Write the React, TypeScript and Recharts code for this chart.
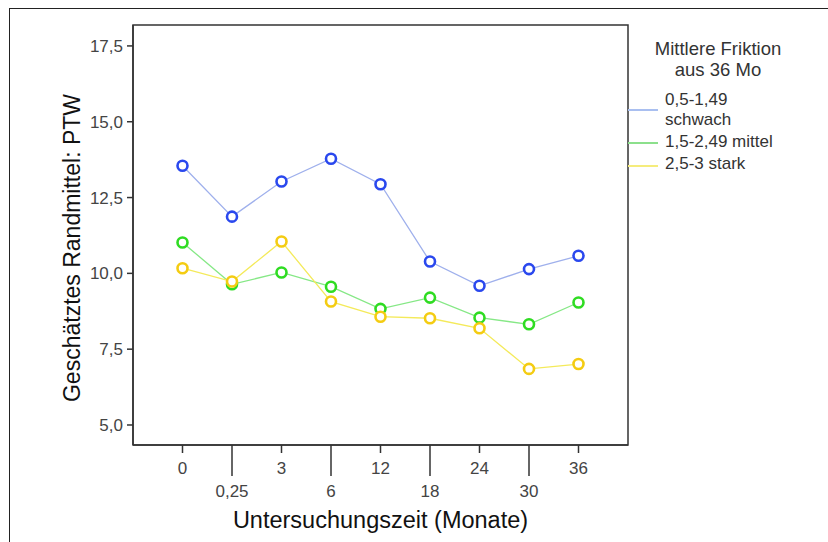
import { LineChart, Line, XAxis, YAxis, Legend, ReferenceArea } from 'recharts'

const months = ['0', '0,25', '3', '6', '12', '18', '24', '30', '36']
const yTicks = [5, 7.5, 10, 12.5, 15, 17.5]

const schwach = [13.55, 11.87, 13.03, 13.78, 12.94, 10.39, 9.59, 10.14, 10.58]
const mittel = [11.02, 9.64, 10.03, 9.56, 8.83, 9.2, 8.54, 8.32, 9.04]
const stark = [10.17, 9.73, 11.05, 9.07, 8.57, 8.52, 8.19, 6.85, 7.01]

const data = months.map((m, i) => ({
  idx: i,
  month: m,
  schwach: schwach[i],
  mittel: mittel[i],
  stark: stark[i],
}))

const series = [
  { key: 'schwach', name: ['0,5-1,49', 'schwach'], line: '#9fb0ec', dot: '#2a48ee', legend: '#a9bff0' },
  { key: 'mittel', name: ['1,5-2,49 mittel'], line: '#86e886', dot: '#2fdc22', legend: '#8ce08c' },
  { key: 'stark', name: ['2,5-3 stark'], line: '#f4ea5a', dot: '#f4cc12', legend: '#f5ec7c' },
]

const font = '"Liberation Sans", Arial, sans-serif'

const XTick = ({ x, y, payload }: any) => {
  const i = payload.value
  const low = i % 2 === 1
  return (
    <g>
      <line x1={x} y1={y} x2={x} y2={y + (low ? 31 : 8)} stroke="#333" strokeWidth={1.5} />
      <text x={x} y={y + (low ? 52 : 29)} textAnchor="middle" fill="#444" fontSize={17} fontFamily={font}>
        {months[i]}
      </text>
    </g>
  )
}

const LegendBox = () => (
  <div style={{ position: 'relative', width: 200, height: 160, fontFamily: font, color: '#333' }}>
    <div style={{ position: 'absolute', left: 0, width: 180, top: 8, textAlign: 'center', fontSize: 18.5, lineHeight: '21px' }}>
      Mittlere Friktion
      <br />
      aus 36 Mo
    </div>
    {series.map((s, i) => {
      const top = [60, 102, 124][i]
      const lineY = [79, 112, 135][i]
      return (
        <div key={s.key}>
          <div style={{ position: 'absolute', left: 0, width: 30, top: lineY, height: 2, background: s.legend }} />
          <div style={{ position: 'absolute', left: 37, top, fontSize: 17, lineHeight: '20px' }}>
            {s.name.map((n) => (
              <div key={n}>{n}</div>
            ))}
          </div>
        </div>
      )
    })}
  </div>
)

export default function App() {
  return (
    <div style={{ position: 'absolute', left: 0, top: 0, width: 828, height: 542, background: '#fff', overflow: 'hidden' }}>
      <div
        style={{
          position: 'absolute',
          left: 9,
          top: 8,
          width: 840,
          height: 560,
          borderLeft: '1.5px solid #222',
          borderTop: '1.5px solid #222',
        }}
      />
      <LineChart width={828} height={542} data={data} margin={{ top: 25, right: 200, bottom: 0, left: 0 }}>
        <ReferenceArea x1={-1} x2={9} y1={4.34} y2={18.19} fill="none" stroke="#333" strokeWidth={1.5} ifOverflow="extendDomain" />
        <XAxis
          dataKey="idx"
          type="number"
          domain={[-1, 9]}
          ticks={[0, 1, 2, 3, 4, 5, 6, 7, 8]}
          tick={<XTick />}
          tickLine={false}
          tickSize={0}
          tickMargin={0}
          height={97}
          axisLine={{ stroke: '#333', strokeWidth: 1.5 }}
          interval={0}
          allowDataOverflow
          label={{
            content: ({ viewBox }: any) => (
              <text
                x={viewBox.x + viewBox.width / 2}
                y={viewBox.y + 83}
                textAnchor="middle"
                fontSize={23.5}
                fill="#111"
                fontFamily={font}
              >
                Untersuchungszeit (Monate)
              </text>
            ),
          }}
        />
        <YAxis
          type="number"
          domain={[4.34, 18.19]}
          ticks={yTicks}
          width={133}
          allowDataOverflow
          tickSize={6}
          tickMargin={4}
          tickFormatter={(v: number) => v.toFixed(1).replace('.', ',')}
          tick={{ fill: '#444', fontSize: 17, fontFamily: font }}
          tickLine={{ stroke: '#333', strokeWidth: 1.5 }}
          axisLine={{ stroke: '#333', strokeWidth: 1.5 }}
          label={{
            content: ({ viewBox }: any) => {
              const cx = viewBox.x + 80
              const cy = viewBox.y + viewBox.height / 2 + 13
              return (
                <text
                  x={cx}
                  y={cy}
                  transform={`rotate(-90 ${cx} ${cy})`}
                  textAnchor="middle"
                  fontSize={23}
                  fill="#111"
                  fontFamily={font}
                >
                  Geschätztes Randmittel: PTW
                </text>
              )
            },
          }}
        />
        <Legend
          layout="horizontal"
          align="center"
          verticalAlign="middle"
          content={<LegendBox />}
          wrapperStyle={{ left: 628, top: 30, width: 200, height: 160 }}
        />
        {series.map((s) => (
          <Line
            key={s.key}
            dataKey={s.key}
            name={s.name.join(' ')}
            type="linear"
            stroke={s.line}
            strokeWidth={1.3}
            dot={{ r: 5, stroke: s.dot, strokeWidth: 2.6, fill: '#fff' }}
            activeDot={false}
            isAnimationActive={false}
          />
        ))}
      </LineChart>
    </div>
  )
}
